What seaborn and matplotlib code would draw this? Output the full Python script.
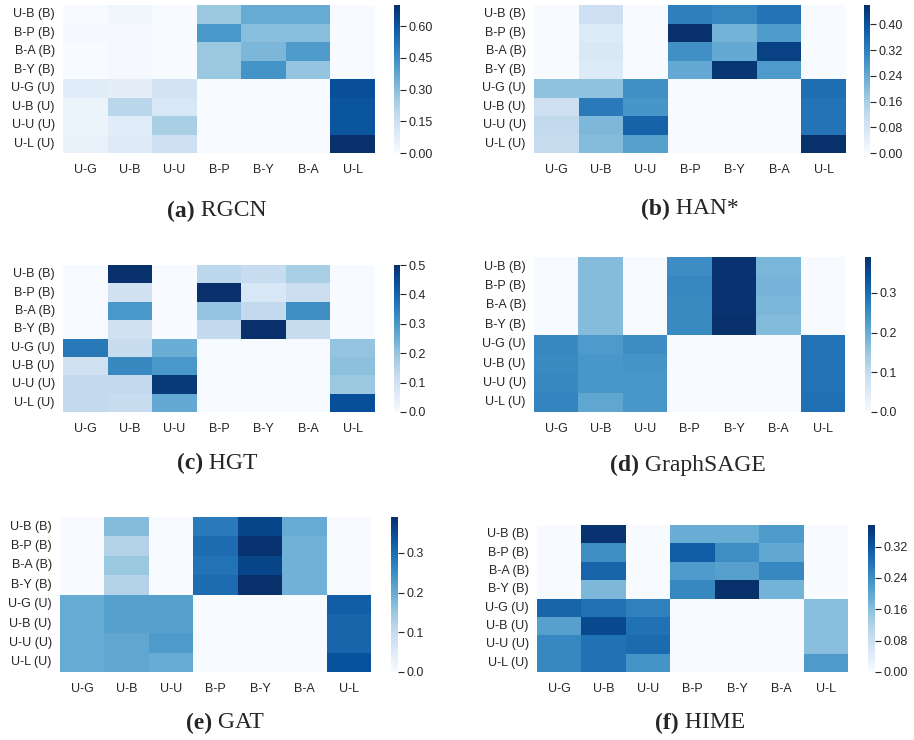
import numpy as np
import matplotlib
matplotlib.use('Agg')
import matplotlib.pyplot as plt
import pandas as pd
import seaborn as sns

rows = ['U-B (B)', 'B-P (B)', 'B-A (B)', 'B-Y (B)', 'U-G (U)', 'U-B (U)', 'U-U (U)', 'U-L (U)']
cols = ['U-G', 'U-B', 'U-U', 'B-P', 'B-Y', 'B-A', 'U-L']

rgcn = [[0.00, 0.03, 0.00, 0.27, 0.36, 0.36, 0.00],
        [0.01, 0.01, 0.00, 0.42, 0.30, 0.30, 0.00],
        [0.00, 0.01, 0.00, 0.27, 0.32, 0.41, 0.00],
        [0.00, 0.01, 0.00, 0.27, 0.43, 0.28, 0.00],
        [0.08, 0.07, 0.13, 0.00, 0.00, 0.00, 0.62],
        [0.04, 0.20, 0.11, 0.00, 0.00, 0.00, 0.60],
        [0.04, 0.08, 0.24, 0.00, 0.00, 0.00, 0.60],
        [0.05, 0.09, 0.15, 0.00, 0.00, 0.00, 0.70]]

han = [[0.00, 0.10, 0.00, 0.32, 0.31, 0.34, 0.00],
       [0.00, 0.06, 0.00, 0.46, 0.22, 0.27, 0.00],
       [0.00, 0.07, 0.00, 0.29, 0.24, 0.43, 0.00],
       [0.00, 0.06, 0.00, 0.24, 0.45, 0.27, 0.00],
       [0.19, 0.19, 0.29, 0.00, 0.00, 0.00, 0.35],
       [0.10, 0.33, 0.28, 0.00, 0.00, 0.00, 0.34],
       [0.12, 0.21, 0.37, 0.00, 0.00, 0.00, 0.34],
       [0.11, 0.20, 0.26, 0.00, 0.00, 0.00, 0.46]]

hgt = [[0.00, 0.50, 0.00, 0.14, 0.12, 0.17, 0.00],
       [0.00, 0.10, 0.00, 0.50, 0.08, 0.11, 0.00],
       [0.00, 0.30, 0.00, 0.20, 0.13, 0.32, 0.00],
       [0.00, 0.10, 0.00, 0.13, 0.50, 0.12, 0.00],
       [0.36, 0.12, 0.25, 0.00, 0.00, 0.00, 0.20],
       [0.10, 0.33, 0.30, 0.00, 0.00, 0.00, 0.21],
       [0.13, 0.13, 0.48, 0.00, 0.00, 0.00, 0.19],
       [0.13, 0.12, 0.26, 0.00, 0.00, 0.00, 0.44]]

sage = [[0.00, 0.170, 0.00, 0.250, 0.385, 0.180, 0.00],
        [0.00, 0.170, 0.00, 0.260, 0.385, 0.185, 0.00],
        [0.00, 0.170, 0.00, 0.255, 0.385, 0.180, 0.00],
        [0.00, 0.170, 0.00, 0.255, 0.390, 0.175, 0.00],
        [0.260, 0.230, 0.250, 0.00, 0.00, 0.00, 0.290],
        [0.255, 0.235, 0.240, 0.00, 0.00, 0.00, 0.290],
        [0.260, 0.235, 0.235, 0.00, 0.00, 0.00, 0.290],
        [0.265, 0.210, 0.235, 0.00, 0.00, 0.00, 0.295]]

gat = [[0.00, 0.17, 0.00, 0.28, 0.36, 0.20, 0.00],
       [0.00, 0.12, 0.00, 0.30, 0.385, 0.19, 0.00],
       [0.00, 0.15, 0.00, 0.29, 0.36, 0.19, 0.00],
       [0.00, 0.12, 0.00, 0.30, 0.39, 0.19, 0.00],
       [0.20, 0.22, 0.22, 0.00, 0.00, 0.00, 0.32],
       [0.20, 0.22, 0.22, 0.00, 0.00, 0.00, 0.31],
       [0.20, 0.21, 0.23, 0.00, 0.00, 0.00, 0.31],
       [0.20, 0.21, 0.20, 0.00, 0.00, 0.00, 0.34]]

hime = [[0.00, 0.37, 0.00, 0.19, 0.19, 0.22, 0.00],
        [0.00, 0.24, 0.00, 0.31, 0.24, 0.20, 0.00],
        [0.00, 0.30, 0.00, 0.22, 0.21, 0.25, 0.00],
        [0.00, 0.17, 0.00, 0.25, 0.375, 0.18, 0.00],
        [0.30, 0.28, 0.26, 0.00, 0.00, 0.00, 0.16],
        [0.21, 0.34, 0.28, 0.00, 0.00, 0.00, 0.16],
        [0.25, 0.28, 0.29, 0.00, 0.00, 0.00, 0.16],
        [0.25, 0.28, 0.23, 0.00, 0.00, 0.00, 0.22]]

letters = ['(a)', '(b)', '(c)', '(d)', '(e)', '(f)']
names = ['RGCN', 'HAN*', 'HGT', 'GraphSAGE', 'GAT', 'HIME']
cbar_ticks = [[0, 0.15, 0.30, 0.45, 0.60],
              [0, 0.08, 0.16, 0.24, 0.32, 0.40],
              [0, 0.1, 0.2, 0.3, 0.4, 0.5],
              [0, 0.1, 0.2, 0.3],
              [0, 0.1, 0.2, 0.3],
              [0, 0.08, 0.16, 0.24, 0.32]]
cbar_fmt = ['%.2f', '%.2f', '%.1f', '%.1f', '%.1f', '%.2f']

W, H = 914, 740
# pixel boxes: heatmap (x0, x1, y0, y1), colorbar x0, x1, caption centre
heat_px = [(63, 375, 5, 153), (534, 846, 5, 153), (63, 375, 265, 412),
           (534, 845, 257, 412), (60, 371, 517, 672), (537, 848, 525, 672)]
cbar_px = [(394, 400), (864, 870), (394, 400), (865, 871), (391, 398), (868, 875)]
cap_px = [(217, 211), (690, 209), (217, 463), (688, 465), (225, 723), (700, 723)]


def px_box(x0, x1, y0, y1):
    return [x0 / W, 1 - y1 / H, (x1 - x0) / W, (y1 - y0) / H]


sns.set_style('white')
plt.rcParams['font.family'] = ['Liberation Sans', 'DejaVu Sans']

fig = plt.figure(figsize=(W / 100, H / 100), dpi=100)
datasets = [rgcn, han, hgt, sage, gat, hime]

for i, vals in enumerate(datasets):
    df = pd.DataFrame(vals, index=rows, columns=cols)
    hx0, hx1, hy0, hy1 = heat_px[i]
    ax = fig.add_axes(px_box(hx0, hx1, hy0, hy1))
    cx0, cx1 = cbar_px[i]
    cax = fig.add_axes(px_box(cx0, cx1, hy0, hy1))
    sns.heatmap(df, ax=ax, cbar_ax=cax, cmap='Blues', vmin=0,
                cbar_kws={'ticks': cbar_ticks[i], 'format': cbar_fmt[i]})
    ax.tick_params(length=0, labelsize=9, pad=8)
    ax.tick_params(axis='y', pad=6)
    ax.set_yticklabels(rows, rotation=0)
    ax.set_xticklabels(cols, rotation=0)
    cax.tick_params(labelsize=9, length=4, width=0.8, pad=2, right=True)

renderer = fig.canvas.get_renderer()
for i in range(6):
    cx, cy = cap_px[i]
    t1 = fig.text(0, 0, letters[i], fontsize=17, weight='bold',
                  family='Liberation Serif', va='center')
    t2 = fig.text(0, 0, ' ' + names[i], fontsize=17,
                  family='Liberation Serif', va='center')
    w1 = t1.get_window_extent(renderer).width
    w2 = t2.get_window_extent(renderer).width
    left = cx - (w1 + w2) / 2
    t1.set_position((left / W, 1 - cy / H))
    t2.set_position(((left + w1) / W, 1 - cy / H))

fig.savefig('out.png', dpi=100)
